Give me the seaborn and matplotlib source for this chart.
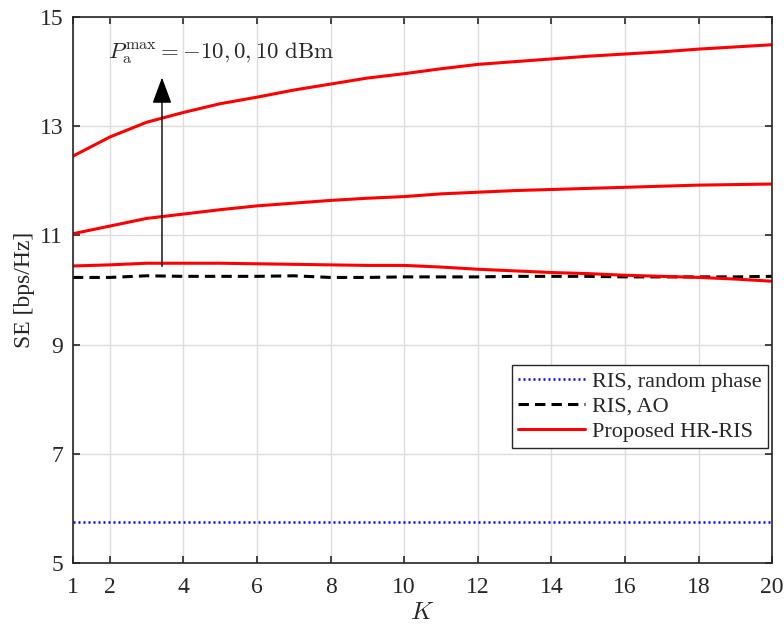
import numpy as np
import pandas as pd
import matplotlib
matplotlib.use("Agg")
import matplotlib.pyplot as plt
import seaborn as sns

# data
K = list(range(1, 21))
se_random = [5.76] * 20
se_ao = [10.23, 10.23, 10.26, 10.25, 10.25, 10.25, 10.26, 10.23, 10.23, 10.24,
         10.24, 10.24, 10.25, 10.25, 10.25, 10.24, 10.24, 10.24, 10.24, 10.25]
se_hr_m10 = [10.44, 10.46, 10.49, 10.49, 10.49, 10.48, 10.47, 10.46, 10.45, 10.45,
             10.42, 10.38, 10.35, 10.32, 10.30, 10.27, 10.25, 10.23, 10.20, 10.16]
se_hr_0 = [11.03, 11.17, 11.31, 11.39, 11.47, 11.54, 11.59, 11.64, 11.68, 11.71,
           11.76, 11.79, 11.82, 11.84, 11.86, 11.88, 11.90, 11.92, 11.93, 11.94]
se_hr_10 = [12.45, 12.80, 13.07, 13.25, 13.41, 13.53, 13.66, 13.77, 13.88, 13.96,
            14.05, 14.13, 14.18, 14.23, 14.28, 14.32, 14.36, 14.41, 14.45, 14.49]

sns.set_theme(style="ticks")
plt.rcParams["font.family"] = ["Liberation Serif", "DejaVu Serif"]
plt.rcParams["mathtext.fontset"] = "cm"

fig, ax = plt.subplots(figsize=(7.84, 6.25), dpi=100)
fig.subplots_adjust(left=0.093, right=0.985, bottom=0.099, top=0.973)

sns.lineplot(x=K, y=se_random, ax=ax, color="#0000ff", lw=1.8,
             linestyle=(0, (0.8, 1.2)), label="RIS, random phase")
sns.lineplot(x=K, y=se_ao, ax=ax, color="black", lw=2.2,
             linestyle=(0, (3.4, 2.0)), label="RIS, AO")
sns.lineplot(x=K, y=se_hr_m10, ax=ax, color="#ff0000", lw=2.2, label="Proposed HR-RIS")
sns.lineplot(x=K, y=se_hr_0, ax=ax, color="#ff0000", lw=2.2, label="_nolegend_")
sns.lineplot(x=K, y=se_hr_10, ax=ax, color="#ff0000", lw=2.2, label="_nolegend_")

ax.set_xlim(1, 20)
ax.set_ylim(5, 15)
ax.set_xticks([1, 2, 4, 6, 8, 10, 12, 14, 16, 18, 20])
ax.set_yticks([5, 7, 9, 11, 13, 15])
ax.grid(True, color="#dcdcdc", lw=1.0)
ax.tick_params(direction="in", length=5, width=1.2, top=True, right=True,
               labelsize=17, colors="#262626")
ax.tick_params(axis="x", pad=10)
ax.tick_params(axis="y", pad=7)
for s in ax.spines.values():
    s.set_color("#262626")
    s.set_linewidth(1.2)

ax.set_xlabel(r"$K$", fontsize=18, labelpad=3, color="#262626")
ax.set_ylabel("SE [bps/Hz]", fontsize=17, labelpad=3, color="#262626")

ax.annotate("", xy=(3.42, 13.94), xytext=(3.42, 10.38),
            arrowprops=dict(arrowstyle="-|>,head_length=1.35,head_width=0.5",
                            color="black", lw=1.0))
ax.text(1.95, 14.34, r"$P_{\mathrm{a}}^{\max} = -10, 0, 10\ \mathrm{dBm}$",
        fontsize=16.5, va="center", ha="left")

leg = ax.legend(loc="lower right", bbox_to_anchor=(0.994, 0.21), borderaxespad=0,
                fontsize=16, handlelength=3.0, fancybox=False, framealpha=1,
                edgecolor="#262626", borderpad=0.3, labelspacing=0.2,
                handletextpad=0.3)
leg.get_frame().set_linewidth(1.0)

fig.savefig("out.png", dpi=100)
